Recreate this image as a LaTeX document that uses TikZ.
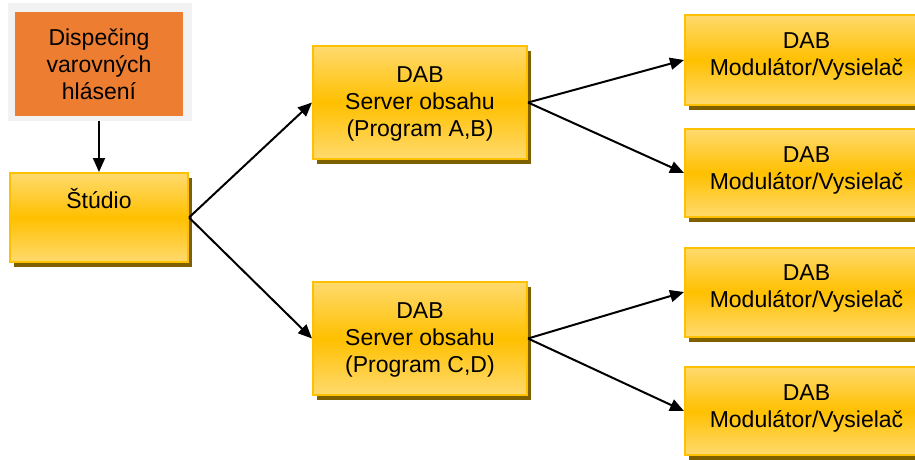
\documentclass[tikz,border=0pt]{standalone}
\usepackage{fontspec}
\setmainfont{Liberation Sans}
\usetikzlibrary{arrows.meta,shadows}
\definecolor{gold}{HTML}{FFC000}
\definecolor{goldlight}{HTML}{FFDA6E}
\definecolor{shadowbrown}{HTML}{7F6000}
\definecolor{alertorange}{HTML}{ED7D31}
\definecolor{framegray}{HTML}{F2F2F2}
% fixed height for the first text line, so that all baselines are placed alike
\newcommand{\firstline}{\rule{0pt}{24pt}}
\begin{document}
\begin{tikzpicture}[x=1pt,y=1pt,
  goldbox/.style={rectangle, draw=gold, line width=2pt, inner sep=0pt,
    top color=goldlight, bottom color=goldlight, middle color=gold,
    drop shadow={shadow xshift=4pt, shadow yshift=-5pt, fill=shadowbrown, opacity=1}},
  boxtext/.style={font=\fontsize{23}{27}\selectfont, align=center, inner sep=0pt,
    anchor=north},
  flow/.style={-{Triangle[length=14pt,width=12pt]}, line width=2pt, black}]
\useasboundingbox (0,0) rectangle (915,-459);

% warning dispatch box with its light frame
\node[fill=framegray, minimum width=184pt, minimum height=118pt, inner sep=0pt] (frame) at (100,-62) {};
\node[fill=alertorange, minimum width=168pt, minimum height=104pt, inner sep=0pt] (alert) at (99,-64) {};
\node[boxtext] (alerttxt) at (99,-21) {\firstline Dispečing\\varovných\\hlásení};

% studio
\node[goldbox, minimum width=178pt, minimum height=89pt] (studio) at (99,-217.5) {};
\node[boxtext] (studiotxt) at (99,-184) {\firstline Štúdio};

% content servers
\node[goldbox, minimum width=214pt, minimum height=113pt] (serverab) at (420,-102.5) {};
\node[boxtext] (serverabtxt) at (420,-58) {\firstline DAB\\Server obsahu\\(Program A,B)};
\node[goldbox, minimum width=214pt, minimum height=113pt] (servercd) at (420,-338.5) {};
\node[boxtext] (servercdtxt) at (420,-294) {\firstline DAB\\Server obsahu\\(Program C,D)};

% modulators / transmitters
\node[goldbox, minimum width=243pt, minimum height=90pt] (mod1) at (806.5,-60) {};
\node[boxtext] (mod1txt) at (806.5,-24.5) {\firstline DAB\\Modulátor/Vysielač};
\node[goldbox, minimum width=243pt, minimum height=88pt] (mod2) at (806.5,-173) {};
\node[boxtext] (mod2txt) at (806.5,-138.5) {\firstline DAB\\Modulátor/Vysielač};
\node[goldbox, minimum width=243pt, minimum height=89pt] (mod3) at (806.5,-292) {};
\node[boxtext] (mod3txt) at (806.5,-256.5) {\firstline DAB\\Modulátor/Vysielač};
\node[goldbox, minimum width=243pt, minimum height=88pt] (mod4) at (806.5,-411) {};
\node[boxtext] (mod4txt) at (806.5,-376.5) {\firstline DAB\\Modulátor/Vysielač};

% connectors
\draw[flow] (frame.south -| studio.north) -- (studio.north);
\draw[flow] (studio.east) -- (serverab.west);
\draw[flow] (studio.east) -- (servercd.west);
\draw[flow] (serverab.east) -- (mod1.west);
\draw[flow] (serverab.east) -- (mod2.west);
\draw[flow] (servercd.east) -- (mod3.west);
\draw[flow] (servercd.east) -- (mod4.west);
\end{tikzpicture}
\end{document}
